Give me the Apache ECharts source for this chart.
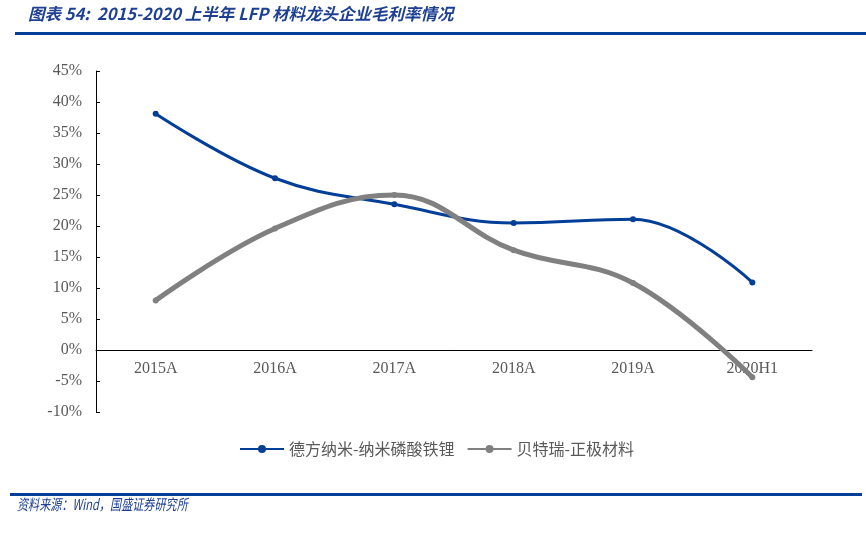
<!DOCTYPE html>
<html>
<head>
<meta charset="utf-8">
<script src="https://cdn.jsdelivr.net/npm/echarts@6/dist/echarts.min.js"></script>
<style>
  html, body { margin: 0; padding: 0; background: #fff; }
  #chart { width: 866px; height: 538px; }
</style>
</head>
<body>
<div id="chart"></div>
<script>
// categories and margins (%)
var years = ['2015A', '2016A', '2017A', '2018A', '2019A', '2020H1']
var dfnm = [38.1, 27.7, 23.5, 20.5, 21.1, 10.9]
var btr = [8.0, 19.6, 25.0, 16.1, 10.8, -4.4]
var dfnmName = '德方纳米-纳米磷酸铁锂'
var btrName = '贝特瑞-正极材料'

var titleText = '图表 54:  2015-2020 上半年 LFP 材料龙头企业毛利率情况'
var sourceText = '资料来源：Wind，国盛证券研究所'

var blue = '#003e98'
var gray = '#808080'
var labelFont = '"Liberation Serif", "Times New Roman", serif'

var myChart = echarts.init(document.getElementById('chart'))

var option = {
    animation: false,
    grid: { left: 96, right: 54, top: 71, bottom: 126 },
    graphic: [
        {
            type: 'text', left: 28, top: 5,
            style: {
                text: titleText, fill: '#1d3f94',
                font: 'italic bold 16.5px "Noto Sans CJK SC", "Noto Sans", sans-serif'
            }
        },
        { type: 'rect', shape: { x: 15, y: 32, width: 851, height: 3 }, style: { fill: blue } },
        { type: 'rect', shape: { x: 10, y: 493, width: 852, height: 3 }, style: { fill: blue } },
        {
            type: 'text', x: 17, y: 497, scaleX: 0.74,
            style: {
                text: sourceText, fill: '#1d3f94',
                font: 'italic 15px "Noto Sans CJK SC", "Noto Sans", sans-serif'
            }
        }
    ],
    legend: {
        top: 436,
        left: 234,
        itemWidth: 44,
        itemHeight: 10,
        itemGap: 12,
        textStyle: { color: '#595959', fontSize: 16, fontFamily: '"Noto Sans CJK SC", sans-serif' },
        data: [dfnmName, btrName]
    },
    xAxis: {
        type: 'category',
        data: years,
        boundaryGap: true,
        offset: -62,
        axisLine: { onZero: false, lineStyle: { color: '#000', width: 1 } },
        axisTick: { inside: true, length: 5, lineStyle: { color: '#000' } },
        axisLabel: { color: '#595959', fontSize: 16, fontFamily: labelFont, margin: 11 }
    },
    yAxis: {
        type: 'value',
        min: -10,
        max: 45,
        interval: 5,
        splitLine: { show: false },
        axisLine: { show: true, lineStyle: { color: '#000', width: 1 } },
        axisTick: { show: true, inside: true, length: 4, lineStyle: { color: '#000' } },
        axisLabel: {
            color: '#595959', fontSize: 16, fontFamily: labelFont, margin: 14,
            formatter: '{value}%'
        }
    },
    series: [
        {
            name: dfnmName,
            type: 'line',
            data: dfnm,
            smooth: 0.4,
            symbol: 'circle',
            symbolSize: 6,
            itemStyle: { color: blue },
            lineStyle: { color: blue, width: 3 }
        },
        {
            name: btrName,
            type: 'line',
            data: btr,
            smooth: 0.4,
            symbol: 'circle',
            symbolSize: 6,
            itemStyle: { color: gray },
            lineStyle: { color: gray, width: 5 }
        }
    ]
}

myChart.setOption(option)
</script>
</body>
</html>
